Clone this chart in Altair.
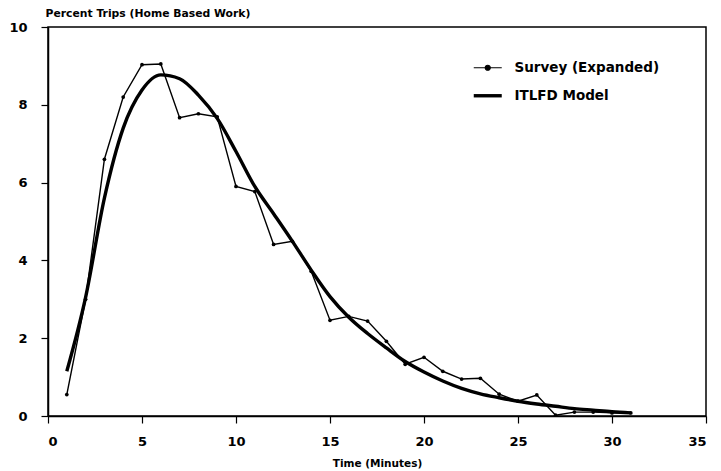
import altair as alt
import pandas as pd

minutes = list(range(1, 32))
survey = [0.55, 3.0, 6.6, 8.2, 9.03, 9.05, 7.67, 7.77, 7.69, 5.9, 5.77, 4.41, 4.49, 3.72, 2.46,
          2.56, 2.44, 1.92, 1.33, 1.51, 1.15, 0.95, 0.97, 0.56, 0.38, 0.54, 0.02, 0.1, 0.1, 0.08, 0.08]
model = [1.15, 3.05, 5.6, 7.4, 8.38, 8.77, 8.67, 8.25, 7.65, 6.8, 5.9, 5.2, 4.49, 3.75, 3.07,
         2.54, 2.12, 1.75, 1.4, 1.13, 0.9, 0.71, 0.57, 0.47, 0.38, 0.31, 0.25, 0.19, 0.15, 0.11, 0.08]
series_names = ["Survey (Expanded)", "ITLFD Model"]
x_ticks = [0, 5, 10, 15, 20, 25, 30, 35]
y_ticks = [0, 2, 4, 6, 8, 10]

rows = []
for name, vals in zip(series_names, [survey, model]):
    for m, v in zip(minutes, vals):
        rows.append({"minutes": m, "pct": v, "series": name})
df = pd.DataFrame(rows)

FONT = "DejaVu Sans"

x = alt.X("minutes:Q", scale=alt.Scale(domain=[0, 35], nice=False),
          axis=alt.Axis(values=x_ticks, title="Time (Minutes)", titleFontSize=10.5,
                        titleFont=FONT, titleFontWeight="bold", titlePadding=10,
                        labelFontSize=13, labelFont=FONT, labelFontWeight="bold",
                        labelPadding=12, tickSize=7, labelColor="black", titleColor="black",
                        domainColor="black", tickColor="black", domainWidth=1.5, tickWidth=1.2,
                        grid=False))
y = alt.Y("pct:Q", scale=alt.Scale(domain=[0, 10], nice=False),
          axis=alt.Axis(values=y_ticks, title="Percent Trips (Home Based Work)",
                        titleAngle=0, titleAlign="left", titleBaseline="bottom",
                        titleX=-3, titleY=-9, titleFontSize=10.8, titleFont=FONT,
                        titleFontWeight="bold", labelFontSize=13, labelFont=FONT,
                        labelFontWeight="bold", labelPadding=14, tickSize=7,
                        labelColor="black", titleColor="black", domainColor="black",
                        tickColor="black", domainWidth=1.5, tickWidth=1.2, grid=False))

survey_path = "M-1,0L1,0M-0.18,0A0.18,0.18,0,1,1,0.18,0A0.18,0.18,0,1,1,-0.18,0Z"

color = alt.Color("series:N",
                  scale=alt.Scale(domain=series_names, range=["black", "black"]),
                  legend=alt.Legend(
                      title=None, orient="none", legendX=433, legendY=34,
                      labelFont=FONT, labelFontWeight="bold", labelFontSize=13.5,
                      labelColor="black", symbolSize=784, labelOffset=20, rowPadding=13,
                      labelLimit=300,
                      symbolType=alt.ExprRef(expr="datum.value == 'Survey (Expanded)' ? '" + survey_path + "' : 'stroke'"),
                      symbolStrokeWidth=alt.ExprRef(expr="datum.value == 'Survey (Expanded)' ? 1.2 : 3.4"),
                      symbolFillColor="black", symbolStrokeColor="black", symbolOpacity=1))

survey_line = alt.Chart(df).transform_filter(
    alt.datum.series == "Survey (Expanded)"
).mark_line(strokeWidth=1.4).encode(x=x, y=y, color=color)

model_line = alt.Chart(df).transform_filter(
    alt.datum.series == "ITLFD Model"
).mark_line(interpolate="monotone", strokeWidth=3.4).encode(x=x, y=y, color=color)

points = alt.Chart(df).transform_filter(
    alt.datum.series == "Survey (Expanded)"
).mark_point(filled=True, size=14, opacity=1).encode(
    x="minutes:Q", y="pct:Q", color=alt.value("black")
)

chart = alt.layer(survey_line, model_line, points).properties(
    width=658, height=389,
    autosize=alt.AutoSizeParams(type="none"),
    padding={"left": 40, "top": 19, "right": 7, "bottom": 54},
    background="white",
).configure_view(stroke="black", strokeWidth=1.5)

chart.save("out.html", embed_options={"renderer": "svg", "actions": False})
